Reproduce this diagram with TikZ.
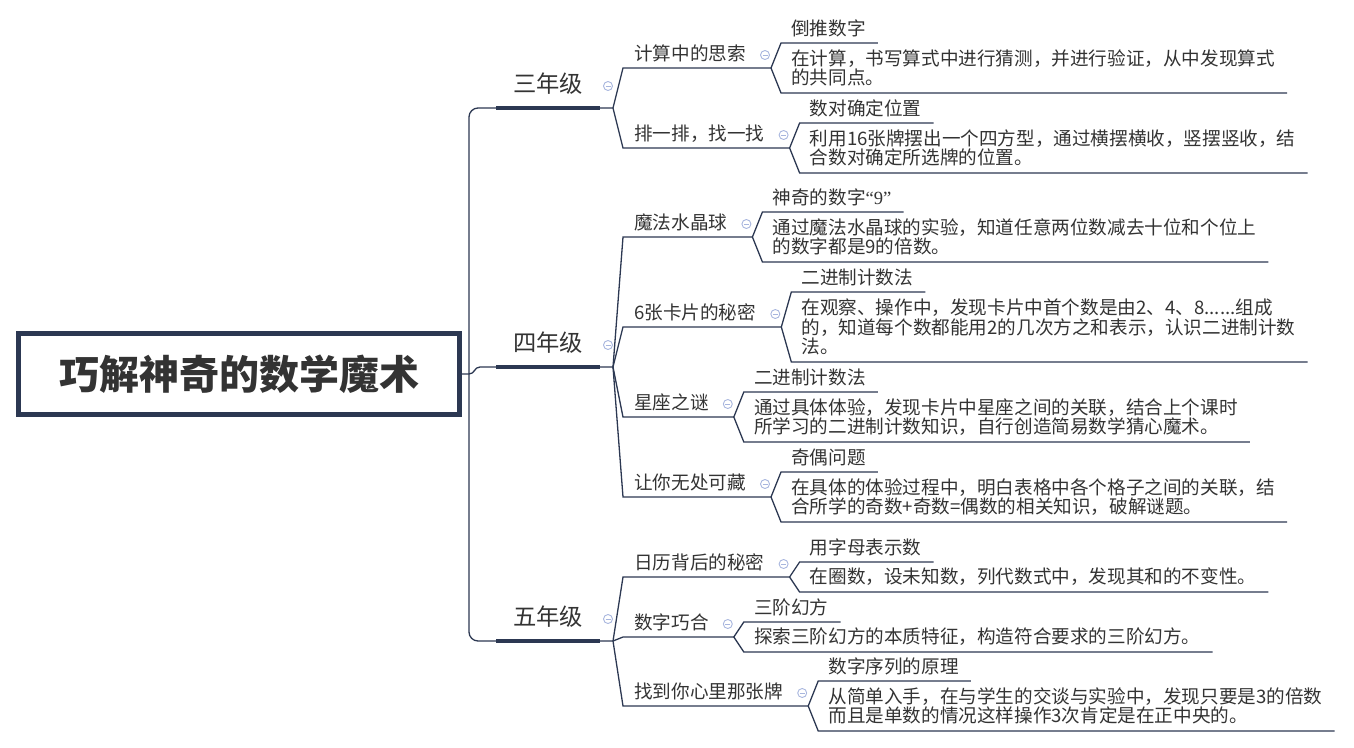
\documentclass[tikz,border=0pt]{standalone}
\usepackage{fontspec}
\setmainfont{Noto Sans CJK SC}
\newfontfamily\lat{Liberation Serif}
\usetikzlibrary{positioning}
\definecolor{navy}{HTML}{2C3852}
\definecolor{ink}{HTML}{333333}
\definecolor{knobc}{HTML}{A8B6DE}
\newcommand\knobbar{\rule{5pt}{0.9pt}}
\begin{document}
\begin{tikzpicture}[
        x=1pt, y=-1pt,
        link/.style={draw=navy, line width=1.3pt},
        bar/.style={draw=navy, line width=4.5pt},
        root/.style={draw=navy, line width=5pt, minimum width=441pt, minimum height=81pt, text=ink, font=\fontsize{40}{44}\selectfont\bfseries},
        grade/.style={text=ink, font=\fontsize{23.3}{26}\selectfont},
        topic/.style={anchor=west, inner sep=0pt, text=ink, text height=16.4pt, text depth=2.2pt, font=\fontsize{18.6}{20}\selectfont},
        head/.style={topic, inner xsep=12pt},
        note/.style={anchor=west, inner xsep=12pt, inner ysep=0pt, align=left, text=ink, font=\fontsize{18.6}{19.5}\selectfont},
        knob/.style={circle, draw=knobc, line width=0.9pt, minimum size=9pt, inner sep=0pt, text=knobc},
    ]
    \useasboundingbox (0,0) rectangle (1354,747);

    % корень и ствол
    \node[root] (root) at (239,374) {巧解神奇的数学魔术};
    \coordinate (j) at (469,374);
    \coordinate (j4) at (480,367);
    \coordinate (rail) at (623,0);
    \coordinate (f3) at (613,108);
    \coordinate (f4) at (613,367);
    \coordinate (f5) at (613,641);
    \draw[link, rounded corners=9pt] (f3) -| (j) |- (f5);
    \draw[link] (root.east) -- (j) .. controls (475,374) and (474,367) .. (j4) -- (f4);

    % классы
    \node[grade] (g3) at (548,84) {三年级};
    \node[grade] (g4) at (548,343) {四年级};
    \node[grade] (g5) at (548,617) {五年级};
    \draw[bar] (f3) ++(-117,0) -- ++(104,0);
    \draw[bar] (f4) ++(-117,0) -- ++(104,0);
    \draw[bar] (f5) ++(-117,0) -- ++(104,0);
    \node[knob] at ([shift={(-5,-22)}]f3) {\knobbar};
    \node[knob] at ([shift={(-5,-22)}]f4) {\knobbar};
    \node[knob] at ([shift={(-5,-22)}]f5) {\knobbar};

    % 三年级
    \node[topic] (t1) at (634,53) {计算中的思索};
    \path (t1.east) ++(25,15) coordinate (e1) ++(10,-25) coordinate (u1) ++(0,50) coordinate (d1);
    \node[knob] at ([shift={(-6,-13)}]e1) {\knobbar};
    \node[head, right=8pt of e1, yshift=40pt] (h1) {倒推数字};
    \node[note, right=8pt of e1] (n1) {在计算，书写算式中进行猜测，并进行验证，从中发现算式\\的共同点。};
    \draw[link] (f3) -- (rail |- e1) -- (e1);
    \draw[link] (h1.east |- u1) -- (u1) -- (e1) -- (d1) -- (n1.east |- d1);

    \node[topic] (t2) at (634,133) {排一排，找一找};
    \path (t2.east) ++(25,15) coordinate (e2) ++(10,-25) coordinate (u2) ++(0,50) coordinate (d2);
    \node[knob] at ([shift={(-6,-13)}]e2) {\knobbar};
    \node[head, right=8pt of e2, yshift=40pt] (h2) {数对确定位置};
    \node[note, right=8pt of e2] (n2) {利用16张牌摆出一个四方型，通过横摆横收，竖摆竖收，结\\合数对确定所选牌的位置。};
    \draw[link] (f3) -- (rail |- e2) -- (e2);
    \draw[link] (h2.east |- u2) -- (u2) -- (e2) -- (d2) -- (n2.east |- d2);

    % 四年级
    \node[topic] (t3) at (634,222) {魔法水晶球};
    \path (t3.east) ++(25,15) coordinate (e3) ++(10,-25) coordinate (u3) ++(0,50) coordinate (d3);
    \node[knob] at ([shift={(-6,-13)}]e3) {\knobbar};
    \node[head, right=8pt of e3, yshift=40pt] (h3) {神奇的数字{\lat “9”}};
    \node[note, right=8pt of e3] (n3) {通过魔法水晶球的实验，知道任意两位数减去十位和个位上\\的数字都是9的倍数。};
    \draw[link] (f4) -- (rail |- e3) -- (e3);
    \draw[link] (h3.east |- u3) -- (u3) -- (e3) -- (d3) -- (n3.east |- d3);

    \node[topic] (t4) at (634,312) {6张卡片的秘密};
    \path (t4.east) ++(25,15) coordinate (e4) ++(10,-35) coordinate (u4) ++(0,70) coordinate (d4);
    \node[knob] at ([shift={(-6,-13)}]e4) {\knobbar};
    \node[head, right=8pt of e4, yshift=50pt] (h4) {二进制计数法};
    \node[note, right=8pt of e4] (n4) {在观察、操作中，发现卡片中首个数是由2、4、8......组成\\的，知道每个数都能用2的几次方之和表示，认识二进制计数\\法。};
    \draw[link] (f4) -- (rail |- e4) -- (e4);
    \draw[link] (h4.east |- u4) -- (u4) -- (e4) -- (d4) -- (n4.east |- d4);

    \node[topic] (t5) at (634,402) {星座之谜};
    \path (t5.east) ++(25,15) coordinate (e5) ++(10,-25) coordinate (u5) ++(0,50) coordinate (d5);
    \node[knob] at ([shift={(-6,-13)}]e5) {\knobbar};
    \node[head, right=8pt of e5, yshift=40pt] (h5) {二进制计数法};
    \node[note, right=8pt of e5] (n5) {通过具体体验，发现卡片中星座之间的关联，结合上个课时\\所学习的二进制计数知识，自行创造简易数学猜心魔术。};
    \draw[link] (f4) -- (rail |- e5) -- (e5);
    \draw[link] (h5.east |- u5) -- (u5) -- (e5) -- (d5) -- (n5.east |- d5);

    \node[topic] (t6) at (634,482) {让你无处可藏};
    \path (t6.east) ++(25,15) coordinate (e6) ++(10,-25) coordinate (u6) ++(0,50) coordinate (d6);
    \node[knob] at ([shift={(-6,-13)}]e6) {\knobbar};
    \node[head, right=8pt of e6, yshift=40pt] (h6) {奇偶问题};
    \node[note, right=8pt of e6] (n6) {在具体的体验过程中，明白表格中各个格子之间的关联，结\\合所学的奇数+奇数=偶数的相关知识，破解谜题。};
    \draw[link] (f4) -- (rail |- e6) -- (e6);
    \draw[link] (h6.east |- u6) -- (u6) -- (e6) -- (d6) -- (n6.east |- d6);

    % 五年级
    \node[topic] (t7) at (634,562) {日历背后的秘密};
    \path (t7.east) ++(25,15) coordinate (e7) ++(10,-15) coordinate (u7) ++(0,30) coordinate (d7);
    \node[knob] at ([shift={(-6,-13)}]e7) {\knobbar};
    \node[head, right=8pt of e7, yshift=30pt] (h7) {用字母表示数};
    \node[note, right=8pt of e7] (n7) {在圈数，设未知数，列代数式中，发现其和的不变性。};
    \draw[link] (f5) -- (rail |- e7) -- (e7);
    \draw[link] (h7.east |- u7) -- (u7) -- (e7) -- (d7) -- (n7.east |- d7);

    \node[topic] (t8) at (634,622) {数字巧合};
    \path (t8.east) ++(25,15) coordinate (e8) ++(10,-15) coordinate (u8) ++(0,30) coordinate (d8);
    \node[knob] at ([shift={(-6,-13)}]e8) {\knobbar};
    \node[head, right=8pt of e8, yshift=30pt] (h8) {三阶幻方};
    \node[note, right=8pt of e8] (n8) {探索三阶幻方的本质特征，构造符合要求的三阶幻方。};
    \draw[link] (f5) -- (rail |- e8) -- (e8);
    \draw[link] (h8.east |- u8) -- (u8) -- (e8) -- (d8) -- (n8.east |- d8);

    \node[topic] (t9) at (634,691) {找到你心里那张牌};
    \path (t9.east) ++(25,15) coordinate (e9) ++(10,-25) coordinate (u9) ++(0,50) coordinate (d9);
    \node[knob] at ([shift={(-6,-13)}]e9) {\knobbar};
    \node[head, right=8pt of e9, yshift=40pt] (h9) {数字序列的原理};
    \node[note, right=8pt of e9] (n9) {从简单入手，在与学生的交谈与实验中，发现只要是3的倍数\\而且是单数的情况这样操作3次肯定是在正中央的。};
    \draw[link] (f5) -- (rail |- e9) -- (e9);
    \draw[link] (h9.east |- u9) -- (u9) -- (e9) -- (d9) -- (n9.east |- d9);
\end{tikzpicture}
\end{document}
